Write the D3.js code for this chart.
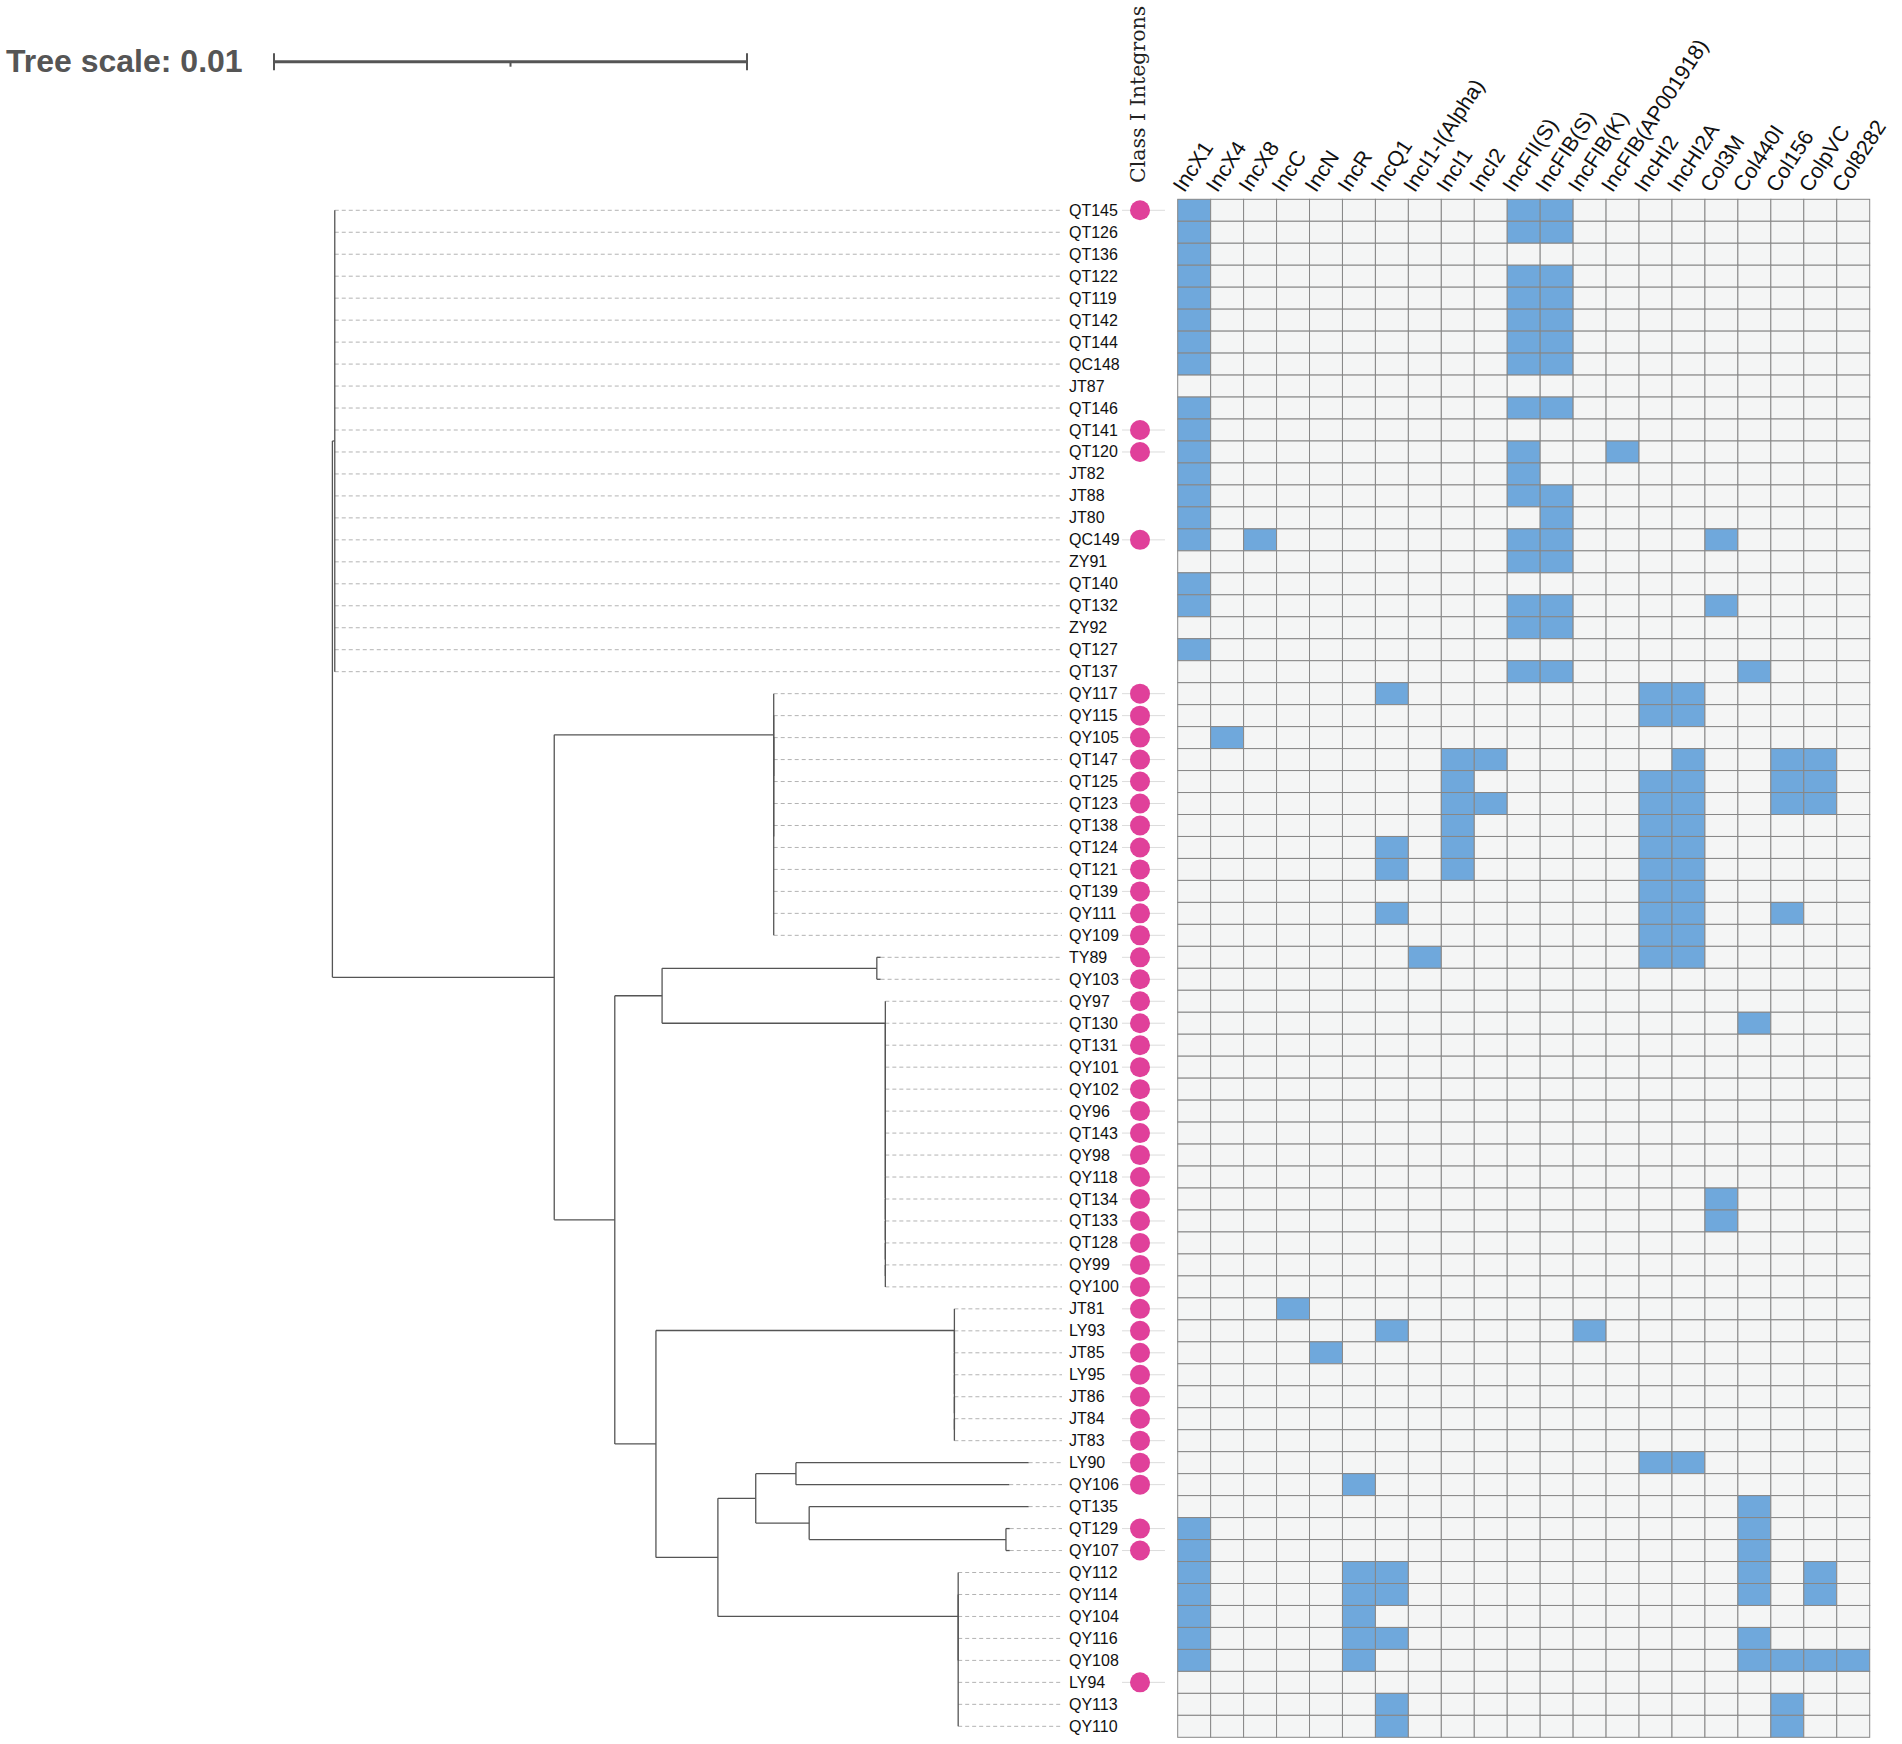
<!DOCTYPE html>
<html><head><meta charset="utf-8">
<script src="https://cdn.jsdelivr.net/npm/d3@7"></script>
<style>body{margin:0;background:#fff}</style>
</head><body><svg id="chart" width="1902" height="1744"></svg>
<script>
// ---------- DATA ----------
const treeNewick = "((QT145:0,QT126:0,QT136:0,QT122:0,QT119:0,QT142:0,QT144:0,QC148:0,JT87:0,QT146:0,QT141:0,QT120:0,JT82:0,JT88:0,JT80:0,QC149:0,ZY91:0,QT140:0,QT132:0,ZY92:0,QT127:0,QT137:0):0.00005," +
 "((QY117:0,(QY115:0,(QY105:0,QT147:0,QT125:0,QT123:0,QT138:0,QT124:0,QT121:0,QT139:0,QY111:0,QY109:0):0):0):0.00464," +
 "(((TY89:0.00008,QY103:0.00008):0.00454," +
 "(QY97:0,(QT130:0,(QT131:0,(QY101:0,(QY102:0,(QY96:0,(QT143:0,(QY98:0,(QY118:0,(QT134:0,(QT133:0,(QT128:0,(QY99:0,QY100:0):0):0):0):0):0):0):0):0):0):0):0):0):0.00472):0.001," +
 "((JT81:0,(LY93:0,(JT85:0,(LY95:0,(JT86:0,(JT84:0,JT83:0):0):0):0):0):0):0.00631," +
 "(((LY90:0.00492,QY106:0.00451):0.00085,(QT135:0.00464,(QT129:0.00008,QY107:0.00008):0.00416):0.00113):0.0008," +
 "(QY112:0,(QY114:0,QY104:0,QY116:0,QY108:0,LY94:0,QY113:0,QY110:0):0):0.00508):0.00131):0.00087):0.00128):0.00469);";

const leafNames = ["QT145","QT126","QT136","QT122","QT119","QT142","QT144","QC148","JT87","QT146","QT141","QT120","JT82","JT88","JT80","QC149","ZY91","QT140","QT132","ZY92","QT127","QT137",
 "QY117","QY115","QY105","QT147","QT125","QT123","QT138","QT124","QT121","QT139","QY111","QY109","TY89","QY103",
 "QY97","QT130","QT131","QY101","QY102","QY96","QT143","QY98","QY118","QT134","QT133","QT128","QY99","QY100",
 "JT81","LY93","JT85","LY95","JT86","JT84","JT83","LY90","QY106","QT135","QT129","QY107",
 "QY112","QY114","QY104","QY116","QY108","LY94","QY113","QY110"];

const integronPositive = ["QT145","QT141","QT120","QC149",
 "QY117","QY115","QY105","QT147","QT125","QT123","QT138","QT124","QT121","QT139","QY111","QY109","TY89","QY103",
 "QY97","QT130","QT131","QY101","QY102","QY96","QT143","QY98","QY118","QT134","QT133","QT128","QY99","QY100",
 "JT81","LY93","JT85","LY95","JT86","JT84","JT83","LY90","QY106","QT129","QY107","LY94"];

const replicons = ["IncX1","IncX4","IncX8","IncC","IncN","IncR","IncQ1","IncI1-I(Alpha)","IncI1","IncI2","IncFII(S)","IncFIB(S)","IncFIB(K)","IncFIB(AP001918)","IncHI2","IncHI2A","Col3M","Col440I","Col156","ColpVC","Col8282"];

// replicons detected per isolate, same order as leafNames
const repliconHits = [
 ["IncX1","IncFII(S)","IncFIB(S)"],
 ["IncX1","IncFII(S)","IncFIB(S)"],
 ["IncX1"],
 ["IncX1","IncFII(S)","IncFIB(S)"],
 ["IncX1","IncFII(S)","IncFIB(S)"],
 ["IncX1","IncFII(S)","IncFIB(S)"],
 ["IncX1","IncFII(S)","IncFIB(S)"],
 ["IncX1","IncFII(S)","IncFIB(S)"],
 [],
 ["IncX1","IncFII(S)","IncFIB(S)"],
 ["IncX1"],
 ["IncX1","IncFII(S)","IncFIB(AP001918)"],
 ["IncX1","IncFII(S)"],
 ["IncX1","IncFII(S)","IncFIB(S)"],
 ["IncX1","IncFIB(S)"],
 ["IncX1","IncX8","IncFII(S)","IncFIB(S)","Col3M"],
 ["IncFII(S)","IncFIB(S)"],
 ["IncX1"],
 ["IncX1","IncFII(S)","IncFIB(S)","Col3M"],
 ["IncFII(S)","IncFIB(S)"],
 ["IncX1"],
 ["IncFII(S)","IncFIB(S)","Col440I"],
 ["IncQ1","IncHI2","IncHI2A"],
 ["IncHI2","IncHI2A"],
 ["IncX4"],
 ["IncI1","IncI2","IncHI2A","Col156","ColpVC"],
 ["IncI1","IncHI2","IncHI2A","Col156","ColpVC"],
 ["IncI1","IncI2","IncHI2","IncHI2A","Col156","ColpVC"],
 ["IncI1","IncHI2","IncHI2A"],
 ["IncQ1","IncI1","IncHI2","IncHI2A"],
 ["IncQ1","IncI1","IncHI2","IncHI2A"],
 ["IncHI2","IncHI2A"],
 ["IncQ1","IncHI2","IncHI2A","Col156"],
 ["IncHI2","IncHI2A"],
 ["IncI1-I(Alpha)","IncHI2","IncHI2A"],
 [],
 [],
 ["Col440I"],
 [],[],[],[],[],[],[],
 ["Col3M"],
 ["Col3M"],
 [],[],[],
 ["IncC"],
 ["IncQ1","IncFIB(K)"],
 ["IncN"],
 [],[],[],[],
 ["IncHI2","IncHI2A"],
 ["IncR"],
 ["Col440I"],
 ["IncX1","Col440I"],
 ["IncX1","Col440I"],
 ["IncX1","IncR","IncQ1","Col440I","ColpVC"],
 ["IncX1","IncR","IncQ1","Col440I","ColpVC"],
 ["IncX1","IncR"],
 ["IncX1","IncR","IncQ1","Col440I"],
 ["IncX1","IncR","Col440I","Col156","ColpVC","Col8282"],
 [],
 ["IncQ1","Col156"],
 ["IncQ1","Col156"]
];

const scaleBarValue = 0.01;
const scaleBarTicks = [0, 0.005, 0.01];

// ---------- NEWICK PARSER ----------
function parseNewick(str){
  const s = str.replace(/\s+/g,"");
  let i = 0;
  function node(){
    const n = {children:[]};
    if (s[i] === "("){
      i++;
      n.children.push(node());
      while (s[i] === ","){ i++; n.children.push(node()); }
      i++;
    }
    let name = "";
    while (i < s.length && !":,();".includes(s[i])) name += s[i++];
    n.name = name;
    n.length = 0;
    if (s[i] === ":"){
      i++;
      let num = "";
      while (i < s.length && !",();".includes(s[i])) num += s[i++];
      n.length = +num;
    }
    return n;
  }
  return node();
}

// ---------- LAYOUT ----------
const svg = d3.select("#chart");
const gridTop = 199.3, gridBottom = 1737.3;
const gridLeft = 1177.7, gridRight = 1869.7;

const y = d3.scaleBand().domain(leafNames).range([gridTop, gridBottom]).padding(0);
const yc = n => y(n) + y.bandwidth()/2;
const xTree = d3.scaleLinear().domain([0, scaleBarValue]).range([332.4, 805.4]);
const xHeat = d3.scaleBand().domain(replicons).range([gridLeft, gridRight]).padding(0);
const xBar = d3.scaleLinear().domain([0, scaleBarValue]).range([274, 747]);

const root = d3.hierarchy(parseNewick(treeNewick), d => d.children.length ? d.children : null);
root.each(d => { d.dist = d.parent ? d.parent.dist + d.data.length : 0; });
root.eachAfter(d => {
  if (!d.children) d.yPos = yc(d.data.name);
  else d.yPos = (d.children[0].yPos + d.children[d.children.length-1].yPos) / 2;
});

const treeColor = "#555";
const gTree = svg.append("g");
const labelStartX = 1069;
const dashEndX = 1062;

// dashed leaf guides
gTree.selectAll("line.guide").data(root.leaves()).join("line")
  .attr("x1", d => xTree(d.dist)).attr("x2", dashEndX)
  .attr("y1", d => d.yPos).attr("y2", d => d.yPos)
  .attr("stroke", "#b3b3b3").attr("stroke-width", 1).attr("stroke-dasharray", "4,3");

// horizontal branches
gTree.selectAll("line.hbranch").data(root.descendants().filter(d => d.parent)).join("line")
  .attr("x1", d => xTree(d.parent.dist)).attr("x2", d => xTree(d.dist))
  .attr("y1", d => d.yPos).attr("y2", d => d.yPos)
  .attr("stroke", treeColor).attr("stroke-width", 1.3);

// vertical connectors
gTree.selectAll("line.vbranch").data(root.descendants().filter(d => d.children)).join("line")
  .attr("x1", d => xTree(d.dist)).attr("x2", d => xTree(d.dist))
  .attr("y1", d => d.children[0].yPos).attr("y2", d => d.children[d.children.length-1].yPos)
  .attr("stroke", treeColor).attr("stroke-width", 1.3);

// leaf labels
svg.append("g").selectAll("text").data(leafNames).join("text")
  .attr("x", labelStartX).attr("y", d => yc(d))
  .attr("dominant-baseline", "central")
  .attr("font-family", "'Liberation Sans', Arial, sans-serif").attr("font-size", 16)
  .attr("fill", "#111").text(d => d);

// integron dots
const dotX = 1140;
const gDots = svg.append("g");
gDots.selectAll("line").data(integronPositive).join("line")
  .attr("x1", 1122).attr("x2", 1165).attr("y1", d => yc(d)).attr("y2", d => yc(d))
  .attr("stroke", "#dcdcdc").attr("stroke-width", 1);
gDots.selectAll("circle").data(integronPositive).join("circle")
  .attr("cx", dotX).attr("cy", d => yc(d)).attr("r", 10).attr("fill", "#E0409A");

svg.append("text")
  .attr("transform", `translate(1145,183) rotate(-90)`)
  .attr("font-family", "'DejaVu Serif', serif").attr("font-size", 20.5)
  .attr("fill", "#222").text("Class I Integrons");

// heatmap
const cells = [];
leafNames.forEach((leaf, i) => {
  replicons.forEach(r => cells.push({leaf, r, on: repliconHits[i].includes(r)}));
});
svg.append("g").selectAll("rect").data(cells).join("rect")
  .attr("x", d => xHeat(d.r)).attr("y", d => y(d.leaf))
  .attr("width", xHeat.bandwidth()).attr("height", y.bandwidth())
  .attr("fill", d => d.on ? "#6FA8DC" : "#F4F5F5")
  .attr("stroke", "#878787").attr("stroke-width", 1);

// column labels
svg.append("g").selectAll("text").data(replicons).join("text")
  .attr("transform", d => `translate(${xHeat(d) + xHeat.bandwidth()/2 - 10},193.5) rotate(-57)`)
  .attr("font-family", "'Liberation Sans', Arial, sans-serif").attr("font-size", 21.5)
  .attr("fill", "#111").text(d => d);

// tree scale
const barY = 61.7;
const gBar = svg.append("g").attr("stroke", "#555");
gBar.append("line").attr("x1", xBar(0)).attr("x2", xBar(scaleBarValue)).attr("y1", barY).attr("y2", barY).attr("stroke-width", 3);
gBar.selectAll("line.tick").data(scaleBarTicks).join("line")
  .attr("x1", d => xBar(d)).attr("x2", d => xBar(d))
  .attr("y1", d => (d === 0 || d === scaleBarValue) ? barY - 8.5 : barY)
  .attr("y2", d => (d === 0 || d === scaleBarValue) ? barY + 8.5 : barY + 5)
  .attr("stroke-width", 2);
svg.append("text").attr("x", 6).attr("y", 72)
  .attr("font-family", "'Liberation Sans', Arial, sans-serif").attr("font-weight", "bold")
  .attr("font-size", 32).attr("fill", "#555").text("Tree scale: " + scaleBarValue);
</script></body></html>
